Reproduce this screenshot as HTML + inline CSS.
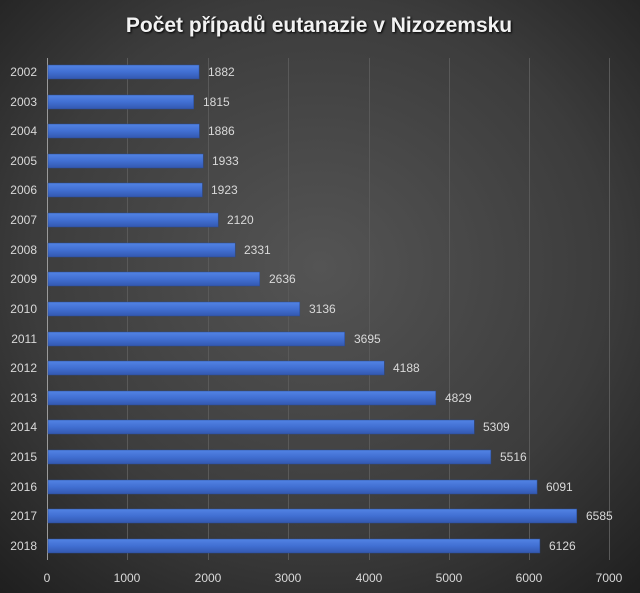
<!DOCTYPE html>
<html><head><meta charset="utf-8"><style>
body{margin:0;width:640px;height:593px;overflow:hidden;background:#333}
svg{display:block}
text{font-family:"Liberation Sans",sans-serif}
</style></head><body>
<svg width="640" height="593" viewBox="0 0 640 593" xmlns="http://www.w3.org/2000/svg">
<defs>
<radialGradient id="bg" cx="50%" cy="45%" r="75%">
<stop offset="0" stop-color="#545454"/><stop offset="0.6" stop-color="#3c3c3c"/><stop offset="1" stop-color="#1e1e1e"/>
</radialGradient>
<linearGradient id="bar" x1="0" y1="0" x2="0" y2="1">
<stop offset="0" stop-color="#5283e4"/><stop offset="0.5" stop-color="#416fd2"/><stop offset="1" stop-color="#3358b0"/>
</linearGradient>
</defs>
<rect width="640" height="593" fill="url(#bg)"/>
<text x="319" y="32" text-anchor="middle" font-size="21" font-weight="bold" fill="#f2f2f2" style="text-shadow:1px 1px 2px #000">Počet případů eutanazie v Nizozemsku</text>
<g stroke="#595959" stroke-width="1">
<line x1="127.5" y1="58" x2="127.5" y2="560"/>
<line x1="208.5" y1="58" x2="208.5" y2="560"/>
<line x1="288.5" y1="58" x2="288.5" y2="560"/>
<line x1="369.5" y1="58" x2="369.5" y2="560"/>
<line x1="449.5" y1="58" x2="449.5" y2="560"/>
<line x1="529.5" y1="58" x2="529.5" y2="560"/>
<line x1="609.5" y1="58" x2="609.5" y2="560"/>
</g>
<line x1="47.5" y1="58" x2="47.5" y2="560" stroke="#9a9a9a"/>
<g font-size="12" fill="#d9d9d9" text-anchor="middle">
<text x="47" y="582">0</text><text x="127" y="582">1000</text><text x="208" y="582">2000</text><text x="288" y="582">3000</text><text x="369" y="582">4000</text><text x="449" y="582">5000</text><text x="529" y="582">6000</text><text x="609" y="582">7000</text>
</g>
<g fill="url(#bar)" stroke="#2a4a90" stroke-width="0.5">
<rect x="48" y="65" width="151.1" height="14"/>
<rect x="48" y="95" width="145.7" height="14"/>
<rect x="48" y="124" width="151.4" height="14"/>
<rect x="48" y="154" width="155.2" height="14"/>
<rect x="48" y="183" width="154.4" height="14"/>
<rect x="48" y="213" width="170.2" height="14"/>
<rect x="48" y="243" width="187.2" height="14"/>
<rect x="48" y="272" width="211.7" height="14"/>
<rect x="48" y="302" width="251.8" height="14"/>
<rect x="48" y="332" width="296.7" height="14"/>
<rect x="48" y="361" width="336.3" height="14"/>
<rect x="48" y="391" width="387.8" height="14"/>
<rect x="48" y="420" width="426.3" height="14"/>
<rect x="48" y="450" width="442.9" height="14"/>
<rect x="48" y="480" width="489.1" height="14"/>
<rect x="48" y="509" width="528.8" height="14"/>
<rect x="48" y="539" width="491.9" height="14"/>
</g>
<g font-size="12" fill="#d9d9d9" text-anchor="end">
<text x="37" y="76">2002</text><text x="37" y="106">2003</text><text x="37" y="135">2004</text><text x="37" y="165">2005</text><text x="37" y="194">2006</text><text x="37" y="224">2007</text><text x="37" y="254">2008</text><text x="37" y="283">2009</text><text x="37" y="313">2010</text><text x="37" y="343">2011</text><text x="37" y="372">2012</text><text x="37" y="402">2013</text><text x="37" y="431">2014</text><text x="37" y="461">2015</text><text x="37" y="491">2016</text><text x="37" y="520">2017</text><text x="37" y="550">2018</text>
</g>
<g font-size="12" fill="#d9d9d9">
<text x="208" y="76">1882</text><text x="203" y="106">1815</text><text x="208" y="135">1886</text><text x="212" y="165">1933</text><text x="211" y="194">1923</text><text x="227" y="224">2120</text><text x="244" y="254">2331</text><text x="269" y="283">2636</text><text x="309" y="313">3136</text><text x="354" y="343">3695</text><text x="393" y="372">4188</text><text x="445" y="402">4829</text><text x="483" y="431">5309</text><text x="500" y="461">5516</text><text x="546" y="491">6091</text><text x="586" y="520">6585</text><text x="549" y="550">6126</text>
</g>
</svg>
</body></html>
